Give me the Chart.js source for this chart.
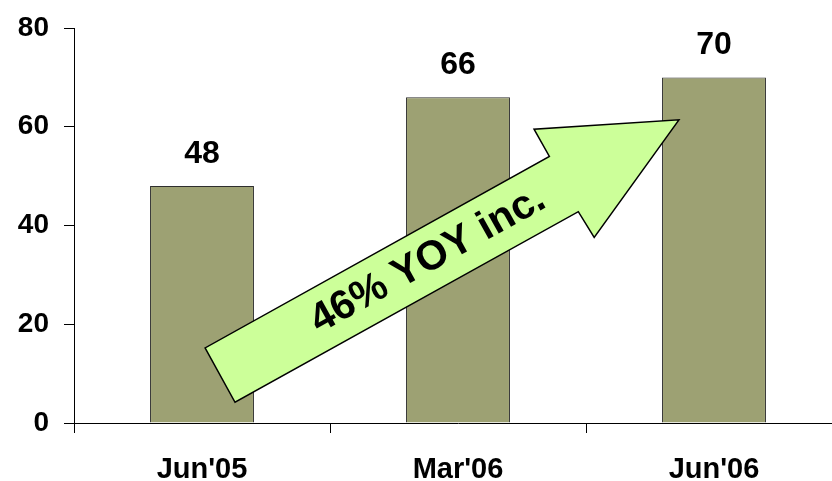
<!DOCTYPE html>
<html>
<head>
<meta charset="utf-8">
<script src="https://cdn.jsdelivr.net/npm/chart.js@4.4.1/dist/chart.umd.min.js"></script>
<style>
  html, body { margin: 0; padding: 0; background: #fff; overflow: hidden; }
  #wrap { position: relative; width: 842px; height: 481px; }
</style>
</head>
<body>
<div id="wrap"><canvas id="growthChart" width="842" height="481"></canvas></div>
<script>
const periods = ["Jun'05", "Mar'06", "Jun'06"];
const counts = [48, 66, 70];
const yTicks = [0, 20, 40, 60, 80];
const arrowText = '46% YOY inc.';

// arrow outline in (category index, value) units
const arrowShape = [
    [0.012, 15.2], [0.129, 4.2], [1.47, 42.8], [1.532, 37.6],
    [1.863, 61.4], [1.297, 59.5], [1.357, 54.0]
];
const arrowLabelAt = [0.883, 33];

const FONT = '"Liberation Sans", Arial, sans-serif';

const valueLabels = {
    id: 'valueLabels',
    afterDatasetsDraw(chart) {
        const ctx = chart.ctx;
        const meta = chart.getDatasetMeta(0);
        ctx.save();
        ctx.font = 'bold 32px ' + FONT;
        ctx.fillStyle = '#000';
        ctx.textAlign = 'center';
        ctx.textBaseline = 'alphabetic';
        meta.data.forEach((bar, i) => {
            ctx.fillText(String(counts[i]), bar.x, bar.y - 23);
        });
        ctx.restore();
    }
};

const growthArrow = {
    id: 'growthArrow',
    afterDraw(chart) {
        const ctx = chart.ctx;
        const xs = chart.scales.x, ys = chart.scales.y;
        const x0 = xs.getPixelForValue(0);
        const step = xs.getPixelForValue(1) - x0;
        const pt = ([i, v]) => [x0 + i * step, ys.getPixelForValue(v)];
        const pts = arrowShape.map(pt);

        ctx.save();
        ctx.beginPath();
        pts.forEach(([px, py], k) => k ? ctx.lineTo(px, py) : ctx.moveTo(px, py));
        ctx.closePath();
        ctx.fillStyle = '#ccff99';
        ctx.fill();
        ctx.lineWidth = 1.5;
        ctx.strokeStyle = '#000';
        ctx.lineJoin = 'miter';
        ctx.stroke();

        // text follows the shaft direction
        const a = pts[0], b = pts[6];
        const angle = Math.atan2(b[1] - a[1], b[0] - a[0]);
        const [tx, ty] = pt(arrowLabelAt);
        ctx.translate(tx, ty);
        ctx.rotate(angle);
        ctx.font = 'bold 41px ' + FONT;
        ctx.fillStyle = '#000';
        ctx.textAlign = 'center';
        ctx.textBaseline = 'middle';
        ctx.fillText(arrowText, 0, 0);
        ctx.restore();
    }
};

new Chart(document.getElementById('growthChart'), {
    type: 'bar',
    data: {
        labels: periods,
        datasets: [{
            data: counts,
            backgroundColor: '#9da173',
            borderColor: '#2e2e2e',
            borderWidth: 1,
            barPercentage: 1,
            categoryPercentage: 0.406
        }]
    },
    options: {
        responsive: false,
        animation: false,
        events: [],
        layout: { padding: { top: 28, right: 0, left: 0, bottom: 0 } },
        plugins: {
            legend: { display: false },
            tooltip: { enabled: false }
        },
        scales: {
            x: {
                border: { color: '#000', width: 1 },
                grid: {
                    drawOnChartArea: false,
                    drawTicks: true,
                    tickLength: 10,
                    color: '#000'
                },
                ticks: {
                    color: '#000',
                    font: { family: FONT, size: 29, weight: 'bold' },
                    padding: 20,
                    maxRotation: 0
                },
                afterFit(scale) {
                    scale.height = 58;
                    scale.paddingLeft = 0;
                    scale.paddingRight = 0;
                }
            },
            y: {
                min: 0,
                max: 80,
                border: { color: '#000', width: 1 },
                grid: {
                    drawOnChartArea: false,
                    drawTicks: true,
                    tickLength: 10,
                    color: '#000'
                },
                afterBuildTicks(scale) {
                    scale.ticks = yTicks.map(v => ({ value: v }));
                },
                ticks: {
                    color: '#000',
                    font: { family: FONT, size: 28, weight: 'bold' },
                    padding: 15
                },
                afterFit(scale) {
                    scale.width = 74;
                    scale.paddingTop = 0;
                    scale.paddingBottom = 0;
                }
            }
        }
    },
    plugins: [valueLabels, growthArrow]
});
</script>
</body>
</html>
